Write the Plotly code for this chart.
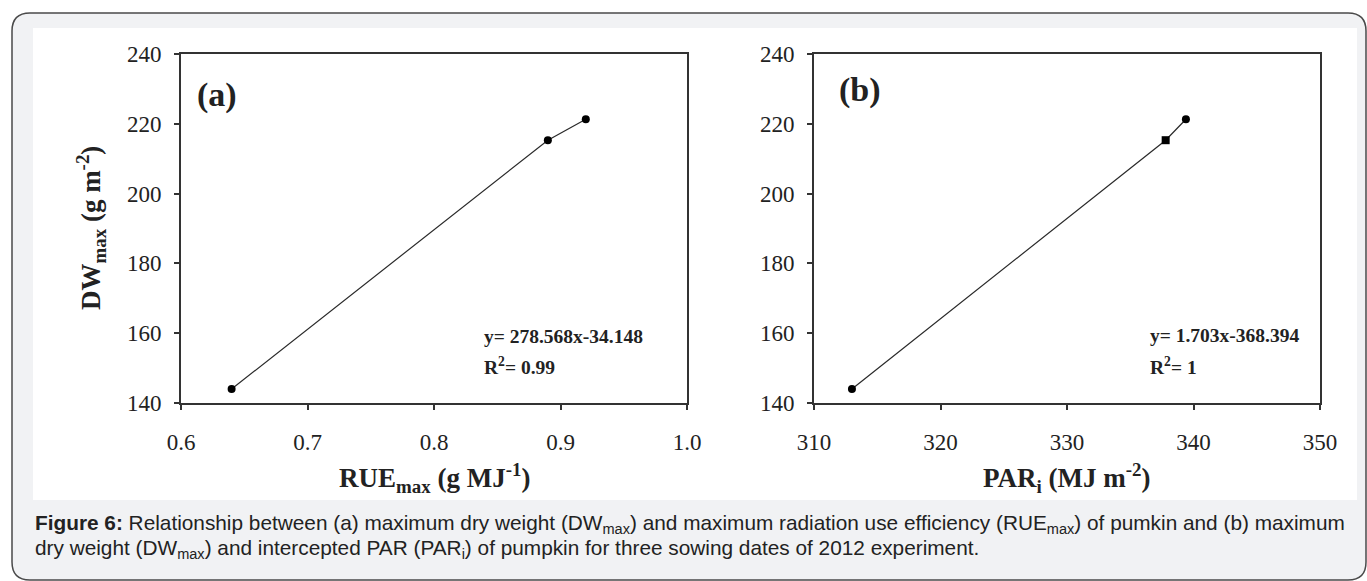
import plotly.graph_objects as go

W, H = 1367, 581

# ---------------- data ----------------
rue_max = [0.64, 0.89, 0.92]
dw_max_a = [144.0, 215.3, 221.3]
par_i = [313.0, 337.8, 339.4]
dw_max_b = [144.0, 215.3, 221.3]
markers_b = ["circle", "square", "circle"]

x_ticks_a = [0.6, 0.7, 0.8, 0.9, 1.0]
x_ticklabels_a = ["0.6", "0.7", "0.8", "0.9", "1.0"]
x_ticks_b = [310, 320, 330, 340, 350]
x_ticklabels_b = ["310", "320", "330", "340", "350"]
y_ticks = [140, 160, 180, 200, 220, 240]
y_ticklabels = ["140", "160", "180", "200", "220", "240"]

eq_a = ["y= 278.568x-34.148", "R<sup>2</sup>= 0.99"]
eq_b = ["y= 1.703x-368.394", "R<sup>2</sup>= 1"]

caption1 = ("<b>Figure 6:</b> Relationship between (a) maximum dry weight (DW<sub>max</sub>) and maximum "
            "radiation use efficiency (RUE<sub>max</sub>) of pumkin and (b) maximum")
caption2 = ("dry weight (DW<sub>max</sub>) and intercepted PAR (PAR<sub>i</sub>) of pumpkin for three "
            "sowing dates of 2012 experiment.")


def px(x):
    return x / W


def py(y):
    return 1 - y / H


SERIF = "Liberation Serif, Times New Roman, serif"
SANS = "Liberation Sans, Arial, sans-serif"
INK = "#222222"

fig = go.Figure()

fig.add_trace(go.Scatter(
    x=rue_max, y=dw_max_a, mode="lines+markers",
    line=dict(color="#2a2a2a", width=1.2),
    marker=dict(color="black", size=8, symbol="circle"),
    xaxis="x", yaxis="y", showlegend=False))

fig.add_trace(go.Scatter(
    x=par_i, y=dw_max_b, mode="lines+markers",
    line=dict(color="#2a2a2a", width=1.2),
    marker=dict(color="black", size=8, symbol=markers_b),
    xaxis="x2", yaxis="y2", showlegend=False))

axis_common = dict(
    showline=True, linecolor="#333333", linewidth=2, mirror=True,
    ticks="outside", ticklen=5, tickwidth=2, tickcolor="#333333",
    showgrid=False, zeroline=False, automargin=False,
    tickfont=dict(family=SERIF, size=23, color=INK),
)


def rounded_rect(x0, y0, x1, y1, r):
    X = lambda v: px(v)
    Y = lambda v: py(v)
    return (f"M {X(x0 + r)},{Y(y0)} L {X(x1 - r)},{Y(y0)} Q {X(x1)},{Y(y0)} {X(x1)},{Y(y0 + r)} "
            f"L {X(x1)},{Y(y1 - r)} Q {X(x1)},{Y(y1)} {X(x1 - r)},{Y(y1)} "
            f"L {X(x0 + r)},{Y(y1)} Q {X(x0)},{Y(y1)} {X(x0)},{Y(y1 - r)} "
            f"L {X(x0)},{Y(y0 + r)} Q {X(x0)},{Y(y0)} {X(x0 + r)},{Y(y0)} Z")


shapes = [
    dict(type="path", xref="paper", yref="paper", layer="below",
         path=rounded_rect(12, 13, 1366, 580, 18),
         fillcolor="#f1f2f4", line=dict(color="#4a4a4a", width=1.5)),
    dict(type="rect", xref="paper", yref="paper", layer="below",
         x0=px(33), x1=px(1357), y0=py(500), y1=py(28),
         fillcolor="white", line=dict(width=0)),
]

annotations = [
    # panel labels
    dict(text="<b>(a)</b>", x=px(195), y=py(95), xanchor="left", yanchor="middle",
         font=dict(family=SERIF, size=34, color=INK)),
    dict(text="<b>(b)</b>", x=px(837), y=py(90), xanchor="left", yanchor="middle",
         font=dict(family=SERIF, size=34, color=INK)),
    # equations
    dict(text=f"<b>{eq_a[0]}</b>", x=px(482), y=py(337), xanchor="left", yanchor="middle",
         font=dict(family=SERIF, size=19.5, color=INK)),
    dict(text=f"<b>{eq_a[1]}</b>", x=px(482), y=py(366), xanchor="left", yanchor="middle",
         font=dict(family=SERIF, size=19.5, color=INK)),
    dict(text=f"<b>{eq_b[0]}</b>", x=px(1148), y=py(335), xanchor="left", yanchor="middle",
         font=dict(family=SERIF, size=19.5, color=INK)),
    dict(text=f"<b>{eq_b[1]}</b>", x=px(1148), y=py(366), xanchor="left", yanchor="middle",
         font=dict(family=SERIF, size=19.5, color=INK)),
    # axis titles
    dict(text="<b>DW<sub>max</sub> (g m<sup>-2</sup>)</b>", x=px(91), y=py(228), textangle=-90,
         xanchor="center", yanchor="middle", font=dict(family=SERIF, size=27, color=INK)),
    dict(text="<b>RUE<sub>max</sub> (g MJ<sup>-1</sup>)</b>", x=px(434), y=py(478),
         xanchor="center", yanchor="middle", font=dict(family=SERIF, size=27, color=INK)),
    dict(text="<b>PAR<sub>i</sub> (MJ m<sup>-2</sup>)</b>", x=px(1066), y=py(478),
         xanchor="center", yanchor="middle", font=dict(family=SERIF, size=27, color=INK)),
    # caption
    dict(text=caption1, x=px(33), y=py(524), xanchor="left", yanchor="middle",
         font=dict(family=SANS, size=20.8, color="#222222")),
    dict(text=caption2, x=px(33), y=py(549), xanchor="left", yanchor="middle",
         font=dict(family=SANS, size=20.8, color="#222222")),
]
for a in annotations:
    a.update(xref="paper", yref="paper", showarrow=False)

fig.update_layout(
    width=W, height=H,
    margin=dict(l=0, r=0, t=0, b=0, autoexpand=False),
    paper_bgcolor="white", plot_bgcolor="rgba(0,0,0,0)",
    xaxis=dict(domain=[px(181), px(687)], range=[0.6, 1.0], ticklabelstandoff=12,
               tickvals=x_ticks_a, ticktext=x_ticklabels_a, anchor="y", **axis_common),
    yaxis=dict(domain=[py(403), py(54)], range=[140, 240], ticklabelstandoff=8,
               tickvals=y_ticks, ticktext=y_ticklabels, anchor="x", **axis_common),
    xaxis2=dict(domain=[px(814), px(1320)], range=[310, 350], ticklabelstandoff=12,
                tickvals=x_ticks_b, ticktext=x_ticklabels_b, anchor="y2", **axis_common),
    yaxis2=dict(domain=[py(403), py(54)], range=[140, 240], ticklabelstandoff=8,
                tickvals=y_ticks, ticktext=y_ticklabels, anchor="x2", **axis_common),
    shapes=shapes,
    annotations=annotations,
)

fig.write_html("out.html")
